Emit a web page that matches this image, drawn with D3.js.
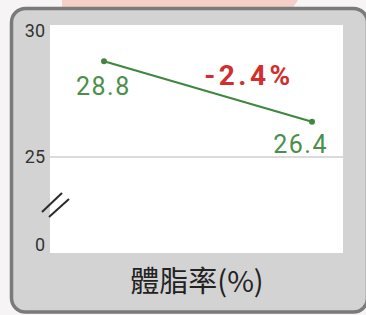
<!DOCTYPE html>
<html>
<head>
<meta charset="utf-8">
<script src="https://cdn.jsdelivr.net/npm/d3@7"></script>
<style>
  body { margin: 0; background: #f6f4f4; }
  svg { display: block; }
</style>
</head>
<body>
<div id="chart"></div>
<script>
// data
let stages = ["before", "after"];
let fatValues = [28.8, 26.4];
let yTicks = [0, 25, 30];
let changeLabel = "-2.4%";
let axisTitle = "體脂率(%)";

let width = 366, height = 315;

let svg = d3.select("#chart")
  .append("svg")
  .attr("width", width)
  .attr("height", height);

// faint pink band behind the panel top
svg.append("path")
  .attr("d", "M62,0 L298,0 L290,12 L62,12 Z")
  .attr("fill", "#f4cfc8");

// gray card (runs off the right edge)
svg.append("rect")
  .attr("x", 11.5)
  .attr("y", 8.5)
  .attr("width", 356)
  .attr("height", 303.5)
  .attr("rx", 14)
  .attr("fill", "#d3d3d3")
  .attr("stroke", "#7a7a7a")
  .attr("stroke-width", 3.5);

// white plot area
let plot = { left: 50, right: 343, top: 25, bottom: 253 };
svg.append("rect")
  .attr("x", plot.left)
  .attr("y", plot.top)
  .attr("width", plot.right - plot.left)
  .attr("height", plot.bottom - plot.top)
  .attr("fill", "#ffffff");

// scales (broken y axis: 0..25 squeezed)
let xScale = d3.scalePoint()
  .domain(stages)
  .range([104, 312]);
let yScale = d3.scaleLinear()
  .domain([0, 25, 30])
  .range([245, 157, 31]);

// gridline at 25
svg.append("line")
  .attr("x1", plot.left)
  .attr("x2", plot.right)
  .attr("y1", yScale(25))
  .attr("y2", yScale(25))
  .attr("stroke", "#cfcfcf")
  .attr("stroke-width", 1.5);

// y tick labels
svg.append("g")
  .selectAll("text")
  .data(yTicks)
  .enter()
  .append("text")
  .attr("x", 45)
  .attr("y", d => yScale(d))
  .attr("dy", "0.36em")
  .attr("text-anchor", "end")
  .attr("font-family", "Roboto, 'Noto Sans', sans-serif")
  .attr("font-size", 18)
  .attr("fill", "#333")
  .text(d => d);

// break marks
svg.append("g")
  .selectAll("line")
  .data([0, 7])
  .enter()
  .append("line")
  .attr("x1", d => 42 + d)
  .attr("y1", d => 212 + d * 0.7)
  .attr("x2", d => 62 + d)
  .attr("y2", d => 193 + d * 0.85)
  .attr("stroke", "#2a2a2a")
  .attr("stroke-width", 2);

// line
let line = d3.line()
  .x((d, i) => xScale(stages[i]))
  .y(d => yScale(d));

svg.append("path")
  .datum(fatValues)
  .attr("d", line)
  .attr("fill", "none")
  .attr("stroke", "#3f873f")
  .attr("stroke-width", 2.2);

svg.append("g")
  .selectAll("circle")
  .data(fatValues)
  .enter()
  .append("circle")
  .attr("cx", (d, i) => xScale(stages[i]))
  .attr("cy", d => yScale(d))
  .attr("r", 3)
  .attr("fill", "#3f873f");

// value labels
svg.append("g")
  .selectAll("text")
  .data(fatValues)
  .enter()
  .append("text")
  .attr("x", (d, i) => i == 0 ? xScale(stages[i]) - 28 : xScale(stages[i]) + 16)
  .attr("y", (d, i) => yScale(d) + (i == 0 ? 34 : 31))
  .attr("text-anchor", (d, i) => i == 0 ? "start" : "end")
  .attr("font-family", "Roboto, 'Noto Sans', sans-serif")
  .attr("font-size", 25)
  .attr("letter-spacing", 1.5)
  .attr("fill", "#4a8f4a")
  .text(d => d.toFixed(1));

// change label
svg.append("text")
  .attr("x", 249)
  .attr("y", 85)
  .attr("text-anchor", "middle")
  .attr("font-family", "Roboto, 'Noto Sans', sans-serif")
  .attr("font-weight", "bold")
  .attr("font-size", 28)
  .attr("letter-spacing", 3.5)
  .attr("fill", "#d12f2f")
  .text(changeLabel);

// axis title
svg.append("text")
  .attr("x", 197)
  .attr("y", 292)
  .attr("text-anchor", "middle")
  .attr("font-family", "'Noto Sans CJK TC', 'Noto Sans CJK SC', sans-serif")
  .attr("font-size", 29)
  .attr("fill", "#222")
  .text(axisTitle);
</script>
</body>
</html>
